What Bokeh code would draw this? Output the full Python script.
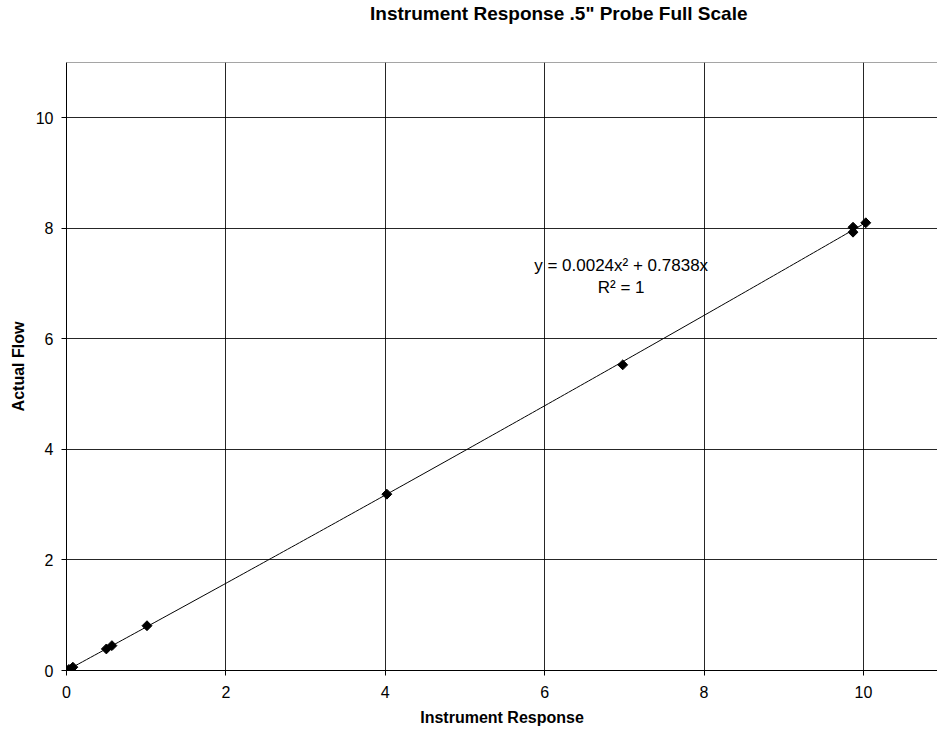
import numpy as np
from bokeh.plotting import figure
from bokeh.models import FixedTicker, Label, Span, Range1d, Div
from bokeh.layouts import column
from bokeh.embed import file_html
from bokeh.resources import INLINE

# Data
instrument_response = [0.0, 0.03, 0.08, 0.50, 0.57, 1.01, 4.02, 6.98, 9.87, 9.87, 10.03]
actual_flow = [0.0, 0.02, 0.06, 0.39, 0.45, 0.81, 3.19, 5.53, 7.93, 8.02, 8.10]
x_ticks = [0, 2, 4, 6, 8, 10]
y_ticks = [0, 2, 4, 6, 8, 10]
# Trendline coefficients as shown on the chart: y = a*x^2 + b*x
trend_a = 0.0024
trend_b = 0.7838
title_text = 'Instrument Response .5" Probe Full Scale'

FONT = "Liberation Sans"

title_div = Div(text=title_text, width=937, height=28, margin=0,
                styles={"font-family": FONT, "font-size": "19px", "font-weight": "bold",
                        "color": "black", "padding-left": "370px", "line-height": "28px",
                        "white-space": "nowrap"})

p = figure(width=937, height=710, output_backend="svg", toolbar_location=None,
           x_range=Range1d(0, 10.93), y_range=Range1d(0, 11),
           min_border_left=66, min_border_right=0, min_border_top=34, min_border_bottom=68,
           background_fill_color="white", border_fill_color="white", margin=0)
p.title.visible = False
p.outline_line_color = None

# grid
for g, t in ((p.xgrid, x_ticks), (p.ygrid, y_ticks)):
    g.ticker = FixedTicker(ticks=t)
    g.grid_line_color = "black"
    g.grid_line_width = 1
    g.grid_line_alpha = 0.85

p.xaxis.ticker = FixedTicker(ticks=x_ticks)
p.yaxis.ticker = FixedTicker(ticks=y_ticks)
for ax in (p.xaxis[0], p.yaxis[0]):
    ax.axis_line_color = "black"
    ax.axis_line_width = 1
    ax.major_tick_line_color = "black"
    ax.major_tick_out = 5
    ax.major_tick_in = 0
    ax.minor_tick_line_color = None
    ax.major_label_text_font = FONT
    ax.major_label_text_font_size = "16px"
    ax.major_label_text_color = "black"
    ax.axis_label_text_font = FONT
    ax.axis_label_text_font_size = "16px"
    ax.axis_label_text_font_style = "bold"
    ax.axis_label_text_color = "black"

p.xaxis.axis_label = "Instrument Response"
p.yaxis.axis_label = "Actual Flow"
p.xaxis.major_label_standoff = 10
p.yaxis.major_label_standoff = 8
p.xaxis.axis_label_standoff = 8
p.yaxis.axis_label_standoff = 6

# top border of plot area
p.add_layout(Span(location=11, dimension="width", line_color="black", line_alpha=0.7, line_width=1))

# trendline
xs = np.linspace(min(instrument_response), max(instrument_response), 200)
ys = trend_a * xs ** 2 + trend_b * xs
p.line(xs, ys, line_color="black", line_width=1)

# markers
p.scatter(instrument_response, actual_flow, marker="square", angle=np.pi / 4, size=7,
          fill_color="black", line_color="black")

p.add_layout(Label(x=6.96, y=7.33, text="y = 0.0024x² + 0.7838x", text_align="center",
                   text_baseline="middle", text_font=FONT, text_font_size="17px", text_color="black"))
p.add_layout(Label(x=6.96, y=6.93, text="R² = 1", text_align="center",
                   text_baseline="middle", text_font=FONT, text_font_size="17px", text_color="black"))

layout = column(title_div, p, spacing=0, margin=0)
open("out.html", "w").write(file_html(layout, INLINE))
